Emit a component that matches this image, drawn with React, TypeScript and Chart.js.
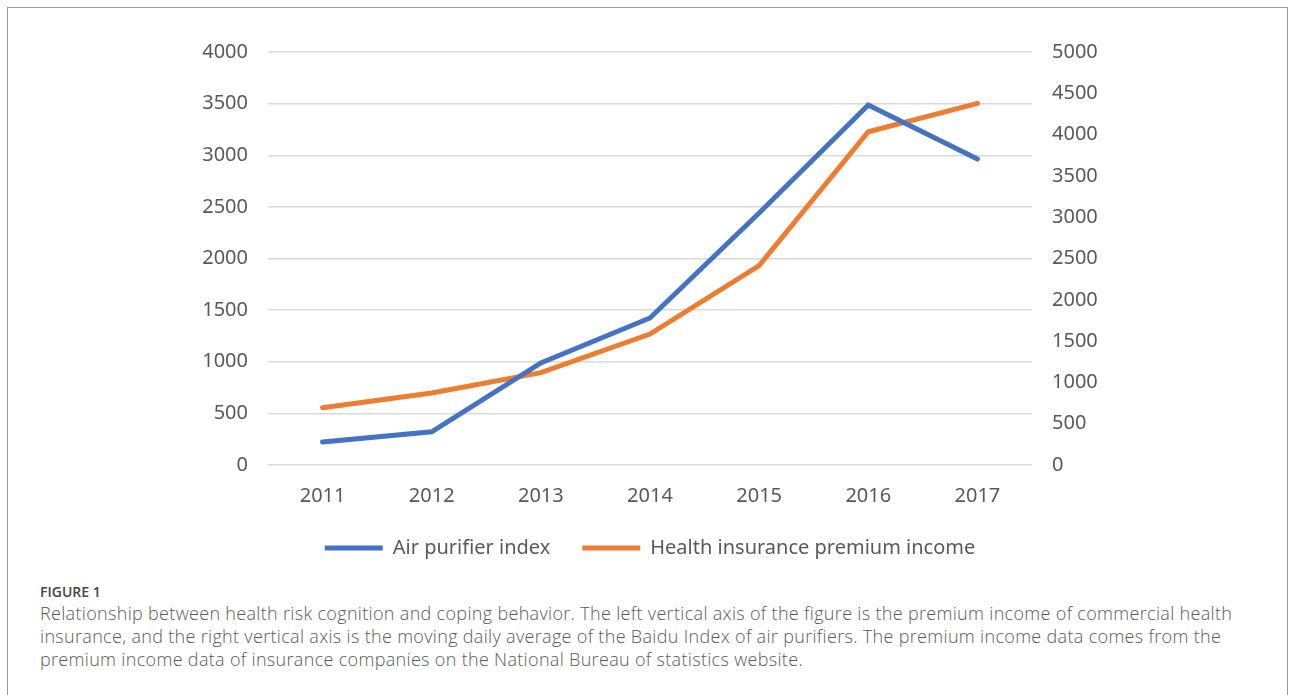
import React, { useEffect, useRef } from "react";
import { Chart, registerables } from "chart.js";

Chart.register(...registerables);

const categories = ["2011", "2012", "2013", "2014", "2015", "2016", "2017"];
const airPurifierIndex = [223, 322, 988, 1424, 2441, 3487, 2964];
const premiumIncome = [694, 872, 1118, 1586, 2413, 4035, 4379];
const seriesNames = ["Air purifier index", "Health insurance premium income"];
const captionLines = [
  "Relationship between health risk cognition and coping behavior. The left vertical axis of the figure is the premium income of commercial health",
  "insurance, and the right vertical axis is the moving daily average of the Baidu Index of air purifiers. The premium income data comes from the",
  "premium income data of insurance companies on the National Bureau of statistics website.",
];

const FONT = "'Noto Sans', 'Open Sans', sans-serif";
const plain = (v: any) => String(v);

export default function App() {
  const ref = useRef<HTMLCanvasElement | null>(null);

  useEffect(() => {
    if (!ref.current) return;
    const fitY = (s: any) => {
      s.width = 88;
      s.paddingTop = 0;
      s.paddingBottom = 0;
    };
    const chart = new Chart(ref.current, {
      type: "line",
      data: {
        labels: categories,
        datasets: [
          {
            label: seriesNames[0],
            data: airPurifierIndex,
            borderColor: "#4472C4",
            backgroundColor: "#4472C4",
            borderWidth: 5,
            pointRadius: 0,
            tension: 0,
            borderCapStyle: "round",
            borderJoinStyle: "miter",
            yAxisID: "y",
          },
          {
            label: seriesNames[1],
            data: premiumIncome,
            borderColor: "#ED7D31",
            backgroundColor: "#ED7D31",
            borderWidth: 5,
            pointRadius: 0,
            tension: 0,
            borderCapStyle: "round",
            borderJoinStyle: "miter",
            yAxisID: "y1",
          },
        ],
      },
      options: {
        animation: false,
        responsive: false,
        maintainAspectRatio: false,
        layout: { padding: { top: 22, bottom: 0, left: 0, right: 0 } },
        plugins: {
          tooltip: { enabled: false },
          legend: {
            position: "bottom",
            labels: {
              usePointStyle: true,
              pointStyle: "line",
              pointStyleWidth: 58,
              color: "#595959",
              font: { family: FONT, size: 20 },
              padding: 32,
            },
          },
        },
        scales: {
          x: {
            offset: true,
            grid: { display: false, drawTicks: false },
            border: { display: false },
            ticks: { color: "#595959", font: { family: FONT, size: 20 }, padding: 19 },
            afterFit: (s: any) => {
              s.height = 41;
            },
          },
          y: {
            position: "left",
            min: 0,
            max: 4000,
            ticks: {
              stepSize: 500,
              color: "#595959",
              font: { family: FONT, size: 20 },
              padding: 20,
              callback: plain,
            },
            grid: { color: "#d9d9d9", lineWidth: 1.5, drawTicks: false },
            border: { display: false },
            afterFit: fitY,
          },
          y1: {
            position: "right",
            min: 0,
            max: 5000,
            ticks: {
              stepSize: 500,
              color: "#595959",
              font: { family: FONT, size: 20 },
              padding: 20,
              callback: plain,
            },
            grid: { display: false, drawTicks: false },
            border: { display: false },
            afterFit: fitY,
          },
        },
      },
    });
    return () => chart.destroy();
  }, []);

  return (
    <div
      style={{
        position: "absolute",
        left: 0,
        top: 0,
        width: 1293,
        height: 695,
        overflow: "hidden",
        background: "#fff",
      }}
    >
      <div
        style={{
          position: "absolute",
          left: 7,
          top: 7,
          width: 1281,
          height: 760,
          border: "1px solid #9a9a9a",
          boxSizing: "border-box",
        }}
      />
      <canvas
        ref={ref}
        width={940}
        height={538}
        style={{ position: "absolute", left: 180, top: 30, width: 940, height: 538 }}
      />
      <div
        style={{
          position: "absolute",
          left: 40,
          top: 582,
          fontFamily: "'Open Sans', sans-serif",
          fontSize: 14,
          fontWeight: 600,
          color: "#444",
          lineHeight: "19px",
        }}
      >
        FIGURE 1
      </div>
      <div
        style={{
          position: "absolute",
          left: 40,
          top: 602,
          fontFamily: "'Open Sans', sans-serif",
          fontSize: 18,
          fontWeight: 300,
          letterSpacing: "0.32px",
          lineHeight: "23px",
          color: "#5a5a5a",
          whiteSpace: "nowrap",
        }}
      >
        {captionLines.map((l, i) => (
          <div key={i}>{l}</div>
        ))}
      </div>
    </div>
  );
}
